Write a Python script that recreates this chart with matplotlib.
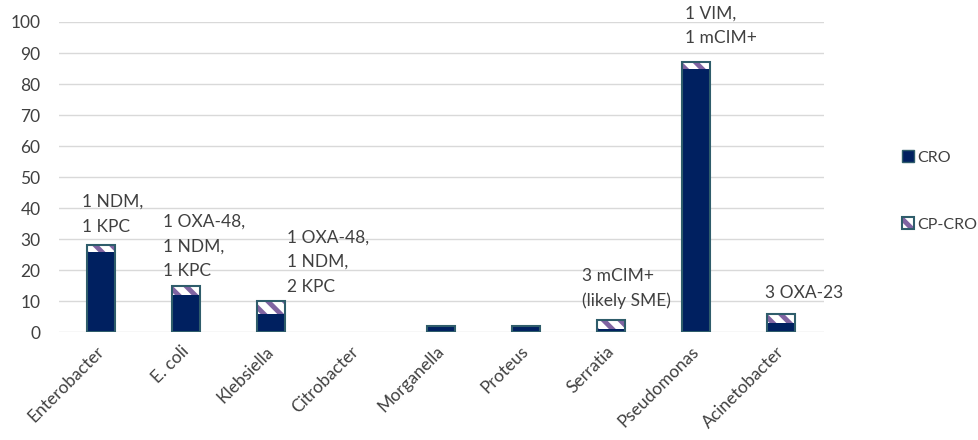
import numpy as np
import matplotlib
matplotlib.use("Agg")
import matplotlib.pyplot as plt
from matplotlib.patches import Patch
from matplotlib.legend_handler import HandlerTuple

# Data
organisms = ["Enterobacter", "E. coli", "Klebsiella", "Citrobacter", "Morganella",
             "Proteus", "Serratia", "Pseudomonas", "Acinetobacter"]
cro = [26, 12, 6, 0, 2, 2, 1, 85, 3]
cp_cro = [2, 3, 4, 0, 0, 0, 3, 2, 3]

# Annotations: text, x offset from bar, y position
notes = ["1 NDM,\n1 KPC",
         "1 OXA-48,\n1 NDM,\n1 KPC",
         "1 OXA-48,\n1 NDM,\n2 KPC",
         "",
         "",
         "",
         "3 mCIM+\n(likely SME)",
         "1 VIM,\n1 mCIM+",
         "3 OXA-23"]
note_dx = [-0.22, -0.27, 0.19, 0, 0, 0, -0.34, -0.13, -0.19]
note_y = [38, 27.7, 22.6, 0, 0, 0, 14.0, 98.7, 12.6]

navy = "#002060"
edge = "#2F5D6B"
purple = "#8064A2"
txt = "#404040"
fs = 12.5

plt.rcParams['font.family'] = ['Lato', 'DejaVu Sans']
plt.rcParams['hatch.linewidth'] = 3.5

fig = plt.figure(figsize=(9.79, 4.4), dpi=100)
ax = fig.add_axes([0.0598, 0.245, 0.7815, 0.705])

x = np.arange(len(organisms))
w = 0.33
total = np.array(cro) + np.array(cp_cro)
has = total > 0

ax.bar(x, cro, width=w, color=navy, linewidth=0, zorder=3)
ax.bar(x, cp_cro, width=w, bottom=cro, facecolor="white", edgecolor=purple,
       hatch="\\\\", linewidth=0, zorder=3)
ax.bar(x[has], total[has], width=w, fill=False, edgecolor=edge, linewidth=1.5, zorder=4)

for i, s in enumerate(notes):
    if s:
        ax.text(x[i] + note_dx[i], note_y[i], s, ha="left", va="center",
                fontsize=fs, color=txt, linespacing=1.65, zorder=5)

ax.set_ylim(0, 100)
ax.set_xlim(-0.5, len(organisms) - 0.5)
ax.set_yticks(np.arange(0, 101, 10))
ax.yaxis.grid(True, color="#D9D9D9", linewidth=1)
ax.set_axisbelow(True)
for s in ax.spines.values():
    s.set_visible(False)
ax.tick_params(axis="both", length=0, labelsize=fs, colors=txt)
ax.tick_params(axis="y", pad=13)
ax.tick_params(axis="x", pad=12)
ax.set_xticks(x)
ax.set_xticklabels(organisms, rotation=45, ha="right", va="center",
                   rotation_mode="anchor")

h1 = Patch(facecolor=navy, edgecolor=edge, linewidth=1)
h2a = Patch(facecolor="white", edgecolor=purple, hatch="\\\\", linewidth=0)
h2b = Patch(fill=False, edgecolor=edge, linewidth=1.5)
fig.legend([h1, (h2a, h2b)], ["CRO", "CP-CRO"], loc="center left",
           bbox_to_anchor=(0.921, 0.566), frameon=False, fontsize=11.5,
           labelspacing=3.3, handlelength=0.75, handleheight=0.75,
           handletextpad=0.25, labelcolor=txt, borderpad=0, borderaxespad=0,
           handler_map={tuple: HandlerTuple(ndivide=1, pad=0)})

fig.savefig("out.png", dpi=100)
